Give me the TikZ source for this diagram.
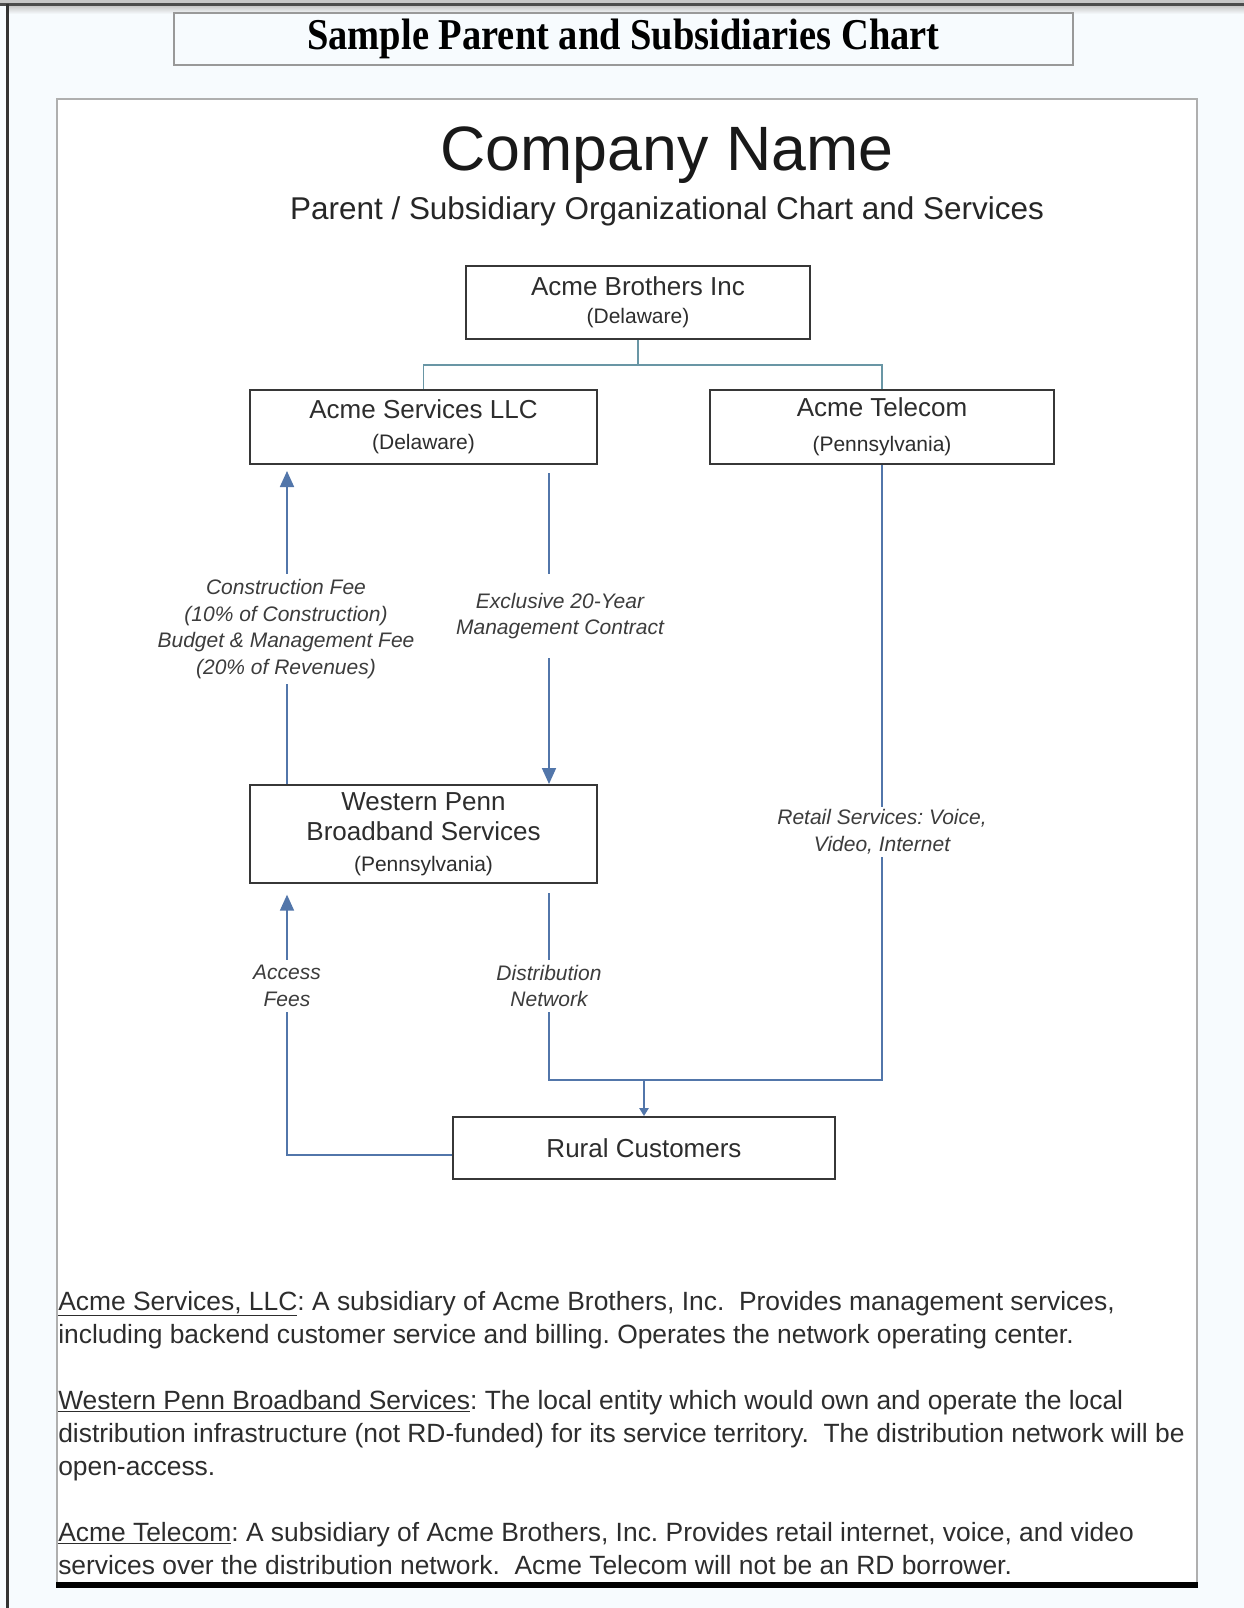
\documentclass[tikz,border=0pt]{standalone}
\usepackage{fontspec}
\usepackage{graphicx}
\setmainfont{Liberation Sans}
\newfontfamily\titleserif{Liberation Serif}
\usetikzlibrary{arrows.meta}
\definecolor{bg}{RGB}{247,251,254}
\definecolor{conn}{RGB}{82,118,170}
\definecolor{treeline}{RGB}{105,150,165}
\definecolor{boxline}{RGB}{55,55,55}
\definecolor{txt}{RGB}{45,45,45}
\definecolor{lbl}{RGB}{60,60,60}
\definecolor{panelline}{RGB}{175,175,175}
\frenchspacing
\begin{document}
\begin{tikzpicture}[x=0.75pt,y=-0.75pt,
  orgbox/.style={draw=boxline,line width=1.5pt,fill=white,align=center,text=txt,inner sep=0pt},
  flow/.style={draw=conn,line width=1.3pt},
  treeconn/.style={draw=treeline,line width=1.3pt},
  bigtip/.style={-{Triangle[length=12pt,width=10.5pt]}},
  lbltext/.style={fill=white,align=center,text=lbl,inner xsep=2pt,inner ysep=4pt,font={\fontsize{15.75}{20}\selectfont\itshape}}
]
\useasboundingbox (0,0) rectangle (1244,1608);
\fill[bg] (0,0) rectangle (1244,1608);
% top band and left edge
\fill[black!22] (0,0) rectangle (1244,3.5);
\fill[black!70] (0,3.5) rectangle (1244,6.5);
\shade[top color=black!20,bottom color=bg] (8,6.5) rectangle (1244,14);
\fill[black!80] (6,4) rectangle (8.5,1608);

% title box
\node[draw=black!40,line width=1.1pt,minimum width=674.25pt,minimum height=39pt,inner sep=0pt] (titlebox) at (623.5,39)
  {\titleserif\bfseries\fontsize{33}{36}\selectfont\scalebox{0.875}[1]{Sample Parent and Subsidiaries Chart}};

% panel
\draw[draw=panelline,fill=white,line width=1pt] (57,99) rectangle (1197,1585);
\draw[line width=4.5pt] (56,1585) -- (1198,1585);

% headings
\node[anchor=base,inner sep=0pt,text=black!90,font={\fontsize{47}{50}\selectfont}] (company) at (667,171) {Company Name};
\node[anchor=base,inner sep=0pt,text=black!85,font={\fontsize{23.6}{26}\selectfont}] (subtitle) at (667,220) {Parent / Subsidiary Organizational Chart and Services};

% boxes
\node[orgbox,minimum width=258pt,minimum height=54.75pt,font={\fontsize{15.75}{21}\selectfont}] (brothers) at (638,302.5)
  {{\fontsize{19.5}{21}\selectfont Acme Brothers Inc}\\(Delaware)};
\node[orgbox,minimum width=260.25pt,minimum height=55.5pt,font={\fontsize{15.75}{23}\selectfont}] (services) at (423.5,427)
  {{\fontsize{19.5}{23}\selectfont Acme Services LLC}\\(Delaware)};
\node[orgbox,minimum width=258pt,minimum height=55.5pt,font={\fontsize{15.75}{26}\selectfont}] (telecom) at (882,427)
  {{\fontsize{19.5}{26}\selectfont Acme Telecom}\\(Pennsylvania)};
\node[orgbox,minimum width=260.25pt,minimum height=73.5pt,font={\fontsize{15.75}{23}\selectfont}] (western) at (423.5,834)
  {{\fontsize{19.5}{24.75}\selectfont Western Penn}\\{\fontsize{19.5}{24.75}\selectfont Broadband Services}\\(Pennsylvania)};
\node[orgbox,minimum width=286.5pt,minimum height=46.5pt,font={\fontsize{19.5}{23}\selectfont}] (rural) at (644,1148)
  {Rural Customers};

% connectors
\coordinate (j1) at (638,365);
\coordinate (j2) at (644,1080);
\coordinate (cfx) at (287,0);
\coordinate (exx) at (549,0);
\draw[treeconn] (brothers.south) -- (j1);
\draw[treeconn] (services.north) |- (j1) -| (telecom.north);

\draw[flow,bigtip,shorten >=4.5pt] (western.north -| cfx) -- (services.south -| cfx);
\draw[flow,bigtip,shorten <=6pt] (services.south -| exx) -- (western.north -| exx);
\draw[flow] (telecom.south) |- (j2);
\draw[flow,shorten <=7pt] (western.south -| exx) |- (j2);
\draw[flow,-{Triangle[length=6pt,width=7pt]}] (j2) -- (rural.north);
\draw[flow,bigtip,shorten >=8pt] ([yshift=-5pt]rural.west) -| (western.south -| cfx);

% connector labels
\node[lbltext] (constr) at (286,629) {Construction Fee\\(10\% of Construction)\\Budget \& Management Fee\\(20\% of Revenues)};
\node[lbltext,inner ysep=14pt] (excl) at (560,616) {Exclusive 20-Year\\Management Contract};
\node[lbltext,inner ysep=2pt] (retail) at (882,832) {Retail Services: Voice,\\Video, Internet};
\node[lbltext] (dist) at (549,986) {Distribution\\Network};
\node[lbltext] (access) at (287,986) {Access\\Fees};

% description
\node[anchor=north west,align=left,inner sep=0pt,text=txt,font={\fontsize{19.8}{24.75}\selectfont}] (desc) at (58,1291)
{\underline{Acme Services, LLC}: A subsidiary of Acme Brothers, Inc.\ \ Provides management services,\\
including backend customer service and billing. Operates the network operating center.\\[24.75pt]
\underline{Western Penn Broadband Services}: The local entity which would own and operate the local\\
distribution infrastructure (not RD-funded) for its service territory.\ \ The distribution network will be\\
open-access.\\[24.75pt]
\underline{Acme Telecom}: A subsidiary of Acme Brothers, Inc. Provides retail internet, voice, and video\\
services over the distribution network.\ \ Acme Telecom will not be an RD borrower.};
\end{tikzpicture}
\end{document}
